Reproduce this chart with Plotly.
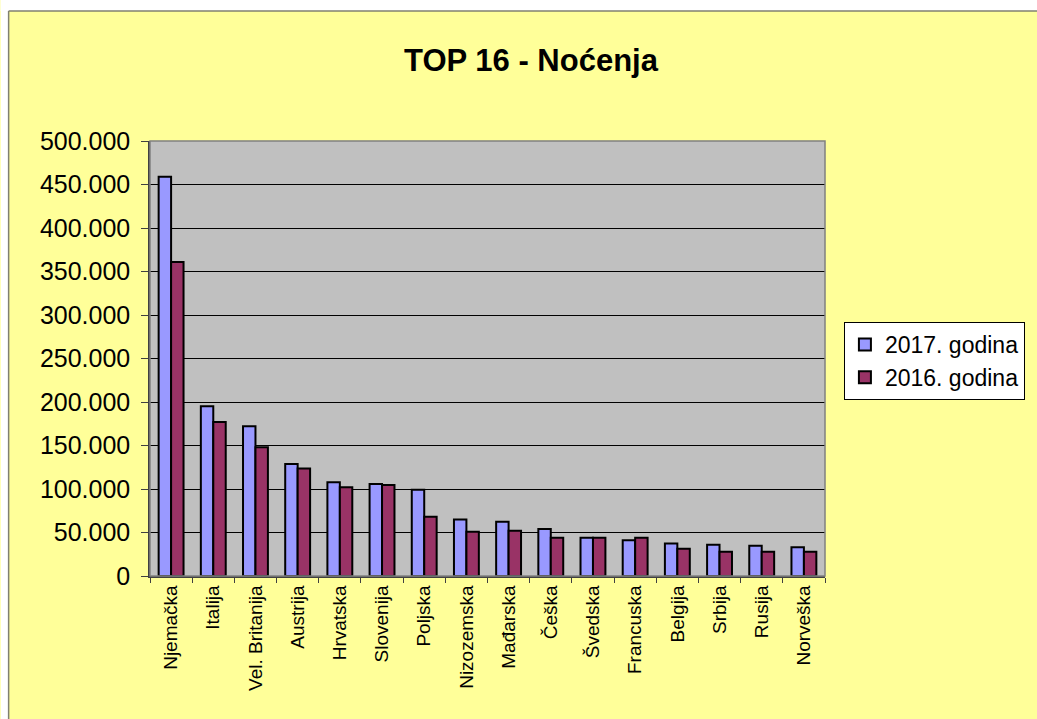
import plotly.graph_objects as go

# podaci (procjena s grafikona)
countries = ["Njemačka", "Italija", "Vel. Britanija", "Austrija", "Hrvatska", "Slovenija",
             "Poljska", "Nizozemska", "Mađarska", "Češka", "Švedska", "Francuska",
             "Belgija", "Srbija", "Rusija", "Norveška"]
nights_2017 = [459000, 195000, 172000, 128700, 107700, 105700, 99000, 65000,
               62400, 54000, 44000, 41000, 37500, 36000, 34800, 33000]
nights_2016 = [361000, 177000, 148000, 123700, 102000, 104600, 68000, 51000,
               52000, 44000, 44000, 44000, 31400, 28000, 28000, 28000]
y_ticks = [0, 50000, 100000, 150000, 200000, 250000, 300000, 350000, 400000, 450000, 500000]

W, H = 1037, 719
L, R, T, B = 150, 828, 141, 576
pw, ph = R - L, B - T

fig = go.Figure()
fig.add_trace(go.Bar(x=countries, y=nights_2017, name="2017. godina",
                     marker=dict(color="#9999FF", line=dict(color="black", width=2))))
fig.add_trace(go.Bar(x=countries, y=nights_2016, name="2016. godina",
                     marker=dict(color="#993366", line=dict(color="black", width=2))))

font = "Liberation Sans, Arial, sans-serif"

# white strip outside chart frame + frame
fig.add_shape(type="rect", xref="paper", yref="paper",
              x0=(0 - L) / pw, x1=(8 - L) / pw, y0=(B - H - 20) / ph, y1=(B + 5) / ph,
              fillcolor="white", line_width=0, layer="below")
fig.add_shape(type="rect", xref="paper", yref="paper",
              x0=(0 - L) / pw, x1=(W + 5 - L) / pw, y0=(B - 11) / ph, y1=(B + 5) / ph,
              fillcolor="white", line_width=0, layer="below")
fig.add_shape(type="line", xref="paper", yref="paper",
              x0=(8 - L) / pw, x1=(8 - L) / pw, y0=(B - H - 20) / ph, y1=(B - 11) / ph,
              line=dict(color="#808070", width=1.5))
fig.add_shape(type="line", xref="paper", yref="paper",
              x0=(8 - L) / pw, x1=(W + 5 - L) / pw, y0=(B - 11) / ph, y1=(B - 11) / ph,
              line=dict(color="#808070", width=1.5))

fig.update_layout(
    width=W, height=H,
    margin=dict(l=L, r=W - R, t=T, b=H - B),
    paper_bgcolor="#FFFF99",
    plot_bgcolor="#C0C0C0",
    separators=",.",
    font=dict(family=font, color="black"),
    title=dict(text="<b>TOP 16 - Noćenja</b>", x=531 / W, xanchor="center",
               xref="container", yref="container", y=1 - 60 / H, yanchor="middle",
               font=dict(size=31, family=font, color="black")),
    barmode="group", bargap=0.41, bargroupgap=0,
    showlegend=True,
    legend=dict(x=(847 - L) / pw, xanchor="left", y=(B - 322) / ph, yanchor="top",
                bgcolor="white", bordercolor="black", borderwidth=1, entrywidth=145,
                font=dict(size=23, family=font, color="black")),
)
fig.update_xaxes(tickangle=-90, tickfont=dict(size=19), ticks="outside", tickson="boundaries",
                 ticklen=5, tickcolor="#404040", showline=True, linecolor="#404040",
                 linewidth=1.5, mirror=False, showgrid=False)
fig.update_yaxes(range=[0, 500000], tickvals=y_ticks, tickformat=",d",
                 tickfont=dict(size=25), ticks="outside", ticklen=7, tickcolor="#404040",
                 ticklabelstandoff=6,
                 showline=True, linecolor="#404040", linewidth=1.5, mirror=False,
                 showgrid=True, gridcolor="black", gridwidth=1, zeroline=False)
# gray top/right border of plot area
fig.add_shape(type="rect", xref="paper", yref="paper", x0=0, x1=1, y0=0, y1=1,
              line=dict(color="#808080", width=1.5))

fig.write_html("out.html", config={"displayModeBar": False},
               post_script="document.body.style.margin='0px';")
